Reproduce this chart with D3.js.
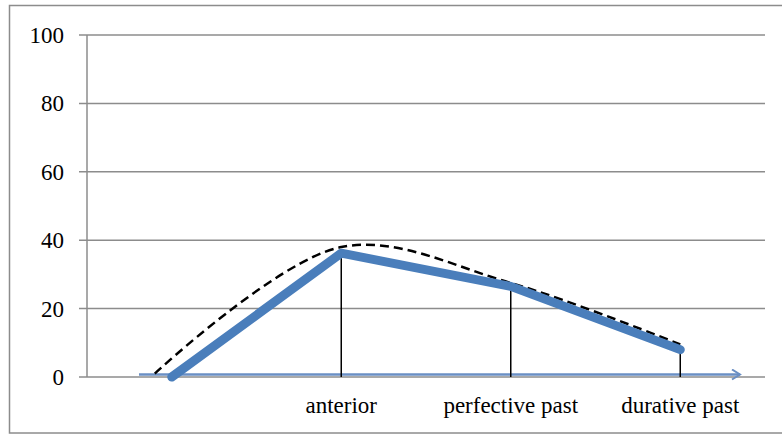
<!DOCTYPE html>
<html><head><meta charset="utf-8">
<script src="https://cdn.jsdelivr.net/npm/d3@7"></script>
<style>body{margin:0;background:#fff}svg{display:block}</style>
</head><body>
<svg id="c" width="782" height="435"></svg>
<script>
const categories = ["", "anterior", "perfective past", "durative past"];
const solidValues = [0, 36.2, 26.5, 8];
const dashedX = [-0.1, 1, 2, 3];
const dashedValues = [1, 38, 27.5, 9.5];
const yTicks = [0, 20, 40, 60, 80, 100];

const svg = d3.select("#c");
const L = 87, R = 765, T = 35, B = 377;
const font = "'Liberation Serif', 'Times New Roman', serif";

svg.append("rect").attr("x", 9.5).attr("y", 5.5).attr("width", 790).attr("height", 427.5)
  .attr("fill", "none").attr("stroke", "#8c8c8c").attr("stroke-width", 1.5);

const x = d3.scaleBand().domain(d3.range(categories.length)).range([L, R]);
const xc = i => x(0) + x.bandwidth() * (i + 0.5);
const y = d3.scaleLinear().domain([0, 100]).range([B, T]);

// gridlines
svg.append("g").selectAll("line").data(yTicks).join("line")
  .attr("x1", L - 8).attr("x2", R).attr("y1", d => y(d)).attr("y2", d => y(d))
  .attr("stroke", "#8c8c8c").attr("stroke-width", 1.5);
// y axis line
svg.append("line").attr("x1", L).attr("x2", L).attr("y1", T).attr("y2", B)
  .attr("stroke", "#8c8c8c").attr("stroke-width", 1.5);
// y labels
svg.append("g").selectAll("text").data(yTicks).join("text")
  .attr("x", 64).attr("y", d => y(d)).attr("dy", "0.35em").attr("text-anchor", "end")
  .attr("font-family", font).attr("font-size", 23).attr("fill", "#000").text(d => d);

// x labels
svg.append("g").selectAll("text").data(categories).join("text")
  .attr("x", (d, i) => xc(i)).attr("y", 413).attr("text-anchor", "middle")
  .attr("font-family", font).attr("font-size", 23).attr("fill", "#000").text(d => d);

// blue arrow axis
svg.append("defs").append("marker").attr("id", "arr").attr("viewBox", "0 0 12 12")
  .attr("refX", 10).attr("refY", 6).attr("markerWidth", 12).attr("markerHeight", 12)
  .attr("markerUnits", "userSpaceOnUse").attr("orient", "auto")
  .append("path").attr("d", "M2,1 L10,6 L2,11").attr("fill", "none")
  .attr("stroke", "#6a8fc4").attr("stroke-width", 2);
svg.append("line").attr("x1", 139).attr("x2", 740).attr("y1", 374.5).attr("y2", 374.5)
  .attr("stroke", "#6a8fc4").attr("stroke-width", 2.5).attr("marker-end", "url(#arr)");

// drop lines
svg.append("g").selectAll("line").data(solidValues.slice(1)).join("line")
  .attr("x1", (d, i) => xc(i + 1)).attr("x2", (d, i) => xc(i + 1))
  .attr("y1", d => y(d)).attr("y2", B)
  .attr("stroke", "#000").attr("stroke-width", 1.5);

// dashed smooth curve
svg.append("path")
  .datum(dashedValues.map((v, i) => [xc(dashedX[i]), y(v)]))
  .attr("d", d3.line().curve(d3.curveCatmullRom.alpha(0.5)))
  .attr("fill", "none").attr("stroke", "#000").attr("stroke-width", 2.5)
  .attr("stroke-dasharray", "9,5");

// thick blue line
svg.append("path")
  .datum(solidValues.map((v, i) => [xc(i), y(v)]))
  .attr("d", d3.line())
  .attr("fill", "none").attr("stroke", "#4a7ebb").attr("stroke-width", 9)
  .attr("stroke-linejoin", "round").attr("stroke-linecap", "round");
</script>
</body></html>
